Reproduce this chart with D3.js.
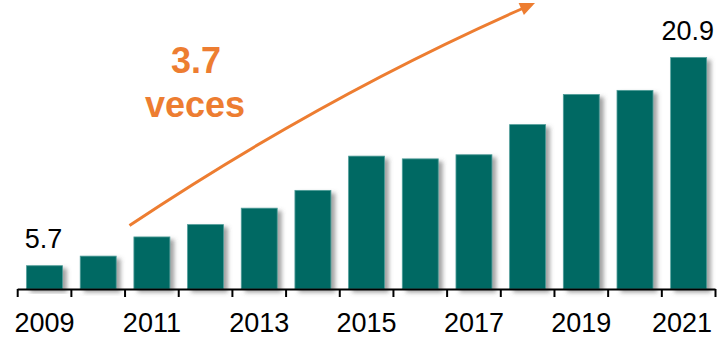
<!DOCTYPE html>
<html>
<head>
<meta charset="utf-8">
<script src="https://cdn.jsdelivr.net/npm/d3@7/dist/d3.min.js"></script>
<style>
  html, body { margin: 0; padding: 0; background: #ffffff; }
  svg { display: block; }
  text { font-family: "Liberation Sans", Arial, Helvetica, sans-serif; }
</style>
</head>
<body>
<svg id="chart" width="717" height="338"></svg>
<script>
// Annual values, 2009–2021
const years  = ["2009","2010","2011","2012","2013","2014","2015","2016","2017","2018","2019","2020","2021"];
const values = [5.7, 6.4, 7.8, 8.7, 9.9, 11.2, 13.7, 13.5, 13.8, 16.0, 18.2, 18.5, 20.9];
// Years that carry an axis label, and bars that carry a value label
const tickYears  = ["2009","2011","2013","2015","2017","2019","2021"];
const labelYears = ["2009","2021"];
// Growth annotation
const growthText = ["3.7", "veces"];

const svg = d3.select("#chart");
const teal = "#006963";
const orange = "#ED7D31";
const W = 717;

const baseY = 289;
const x = d3.scaleBand().domain(years).range([17.7, 715.5]).paddingInner(0.33).paddingOuter(0.165);
const y = d3.scaleLinear().domain([4, 20.9]).range([baseY, 57.5]);

// soft drop shadow behind the bars
const defs = svg.append("defs");
const f = defs.append("filter").attr("id", "shadow")
  .attr("x", "-20%").attr("y", "-10%").attr("width", "150%").attr("height", "130%");
f.append("feDropShadow").attr("dx", 4).attr("dy", 3).attr("stdDeviation", 2.2)
  .attr("flood-color", "#555").attr("flood-opacity", 0.55);

const data = years.map((yr, i) => ({ year: yr, value: values[i] }));

svg.append("g").selectAll("rect").data(data).join("rect")
  .attr("x", d => x(d.year))
  .attr("y", d => y(d.value))
  .attr("width", x.bandwidth())
  .attr("height", d => baseY - y(d.value))
  .attr("fill", teal)
  .attr("stroke", "#4f9d99")
  .attr("stroke-width", 0.8)
  .attr("filter", "url(#shadow)");

// x axis: baseline with ticks at band boundaries
const step = x.step();
const gap = step * x.paddingInner() / 2;
const boundaries = years.map(yr => x(yr) - gap).concat([x(years[years.length - 1]) + x.bandwidth() + gap]);
const axis = svg.append("g");
axis.append("line")
  .attr("x1", boundaries[0]).attr("x2", boundaries[boundaries.length - 1])
  .attr("y1", baseY + 0.5).attr("y2", baseY + 0.5)
  .attr("stroke", "#000").attr("stroke-width", 2);
axis.selectAll("line.tick").data(boundaries).join("line")
  .attr("class", "tick")
  .attr("x1", d => d).attr("x2", d => d)
  .attr("y1", baseY).attr("y2", baseY + 8)
  .attr("stroke", "#000").attr("stroke-width", 2);
axis.selectAll("text").data(tickYears).join("text")
  .attr("x", d => x(d) + x.bandwidth() / 2)
  .attr("y", 331.5)
  .attr("text-anchor", "middle")
  .attr("font-size", 27)
  .attr("fill", "#000")
  .text(d => d)
  // keep the rightmost label inside the canvas
  .each(function () {
    const half = this.getComputedTextLength() / 2;
    const cx = +this.getAttribute("x");
    if (cx + half > W - 5) this.setAttribute("x", W - 5 - half);
  });

// value labels on first and last bars
svg.append("g").selectAll("text").data(data.filter(d => labelYears.includes(d.year))).join("text")
  .attr("x", d => x(d.year) + x.bandwidth() / 2 - 1)
  .attr("y", d => y(d.value) - 17.5)
  .attr("text-anchor", "middle")
  .attr("font-size", 27)
  .attr("fill", "#000")
  .text(d => d3.format(".1f")(d.value));

// growth arrow (quadratic curve with arrowhead)
const p0 = [129.5, 225.5], c = [322, 97], p1 = [535, 3];
const dir = [p1[0] - c[0], p1[1] - c[1]];
const len = Math.hypot(dir[0], dir[1]);
const u = [dir[0] / len, dir[1] / len];
const headLen = 15, headHalf = 6.5;
const base = [p1[0] - u[0] * headLen, p1[1] - u[1] * headLen];
const path = d3.path();
path.moveTo(p0[0], p0[1]);
path.quadraticCurveTo(c[0], c[1], base[0] + u[0] * 2, base[1] + u[1] * 2);
svg.append("path").attr("d", path.toString())
  .attr("fill", "none").attr("stroke", orange).attr("stroke-width", 3);
svg.append("polygon")
  .attr("points", [
    p1,
    [base[0] - u[1] * headHalf, base[1] + u[0] * headHalf],
    [base[0] + u[1] * headHalf, base[1] - u[0] * headHalf]
  ].map(p => p.join(",")).join(" "))
  .attr("fill", orange);

// annotation text
svg.append("text").attr("x", 196).attr("y", 73)
  .attr("text-anchor", "middle").attr("font-size", 36).attr("font-weight", "bold")
  .attr("fill", orange).text(growthText[0]);
svg.append("text").attr("x", 195).attr("y", 116.5)
  .attr("text-anchor", "middle").attr("font-size", 36).attr("font-weight", "bold")
  .attr("fill", orange).text(growthText[1]);
</script>
</body>
</html>
